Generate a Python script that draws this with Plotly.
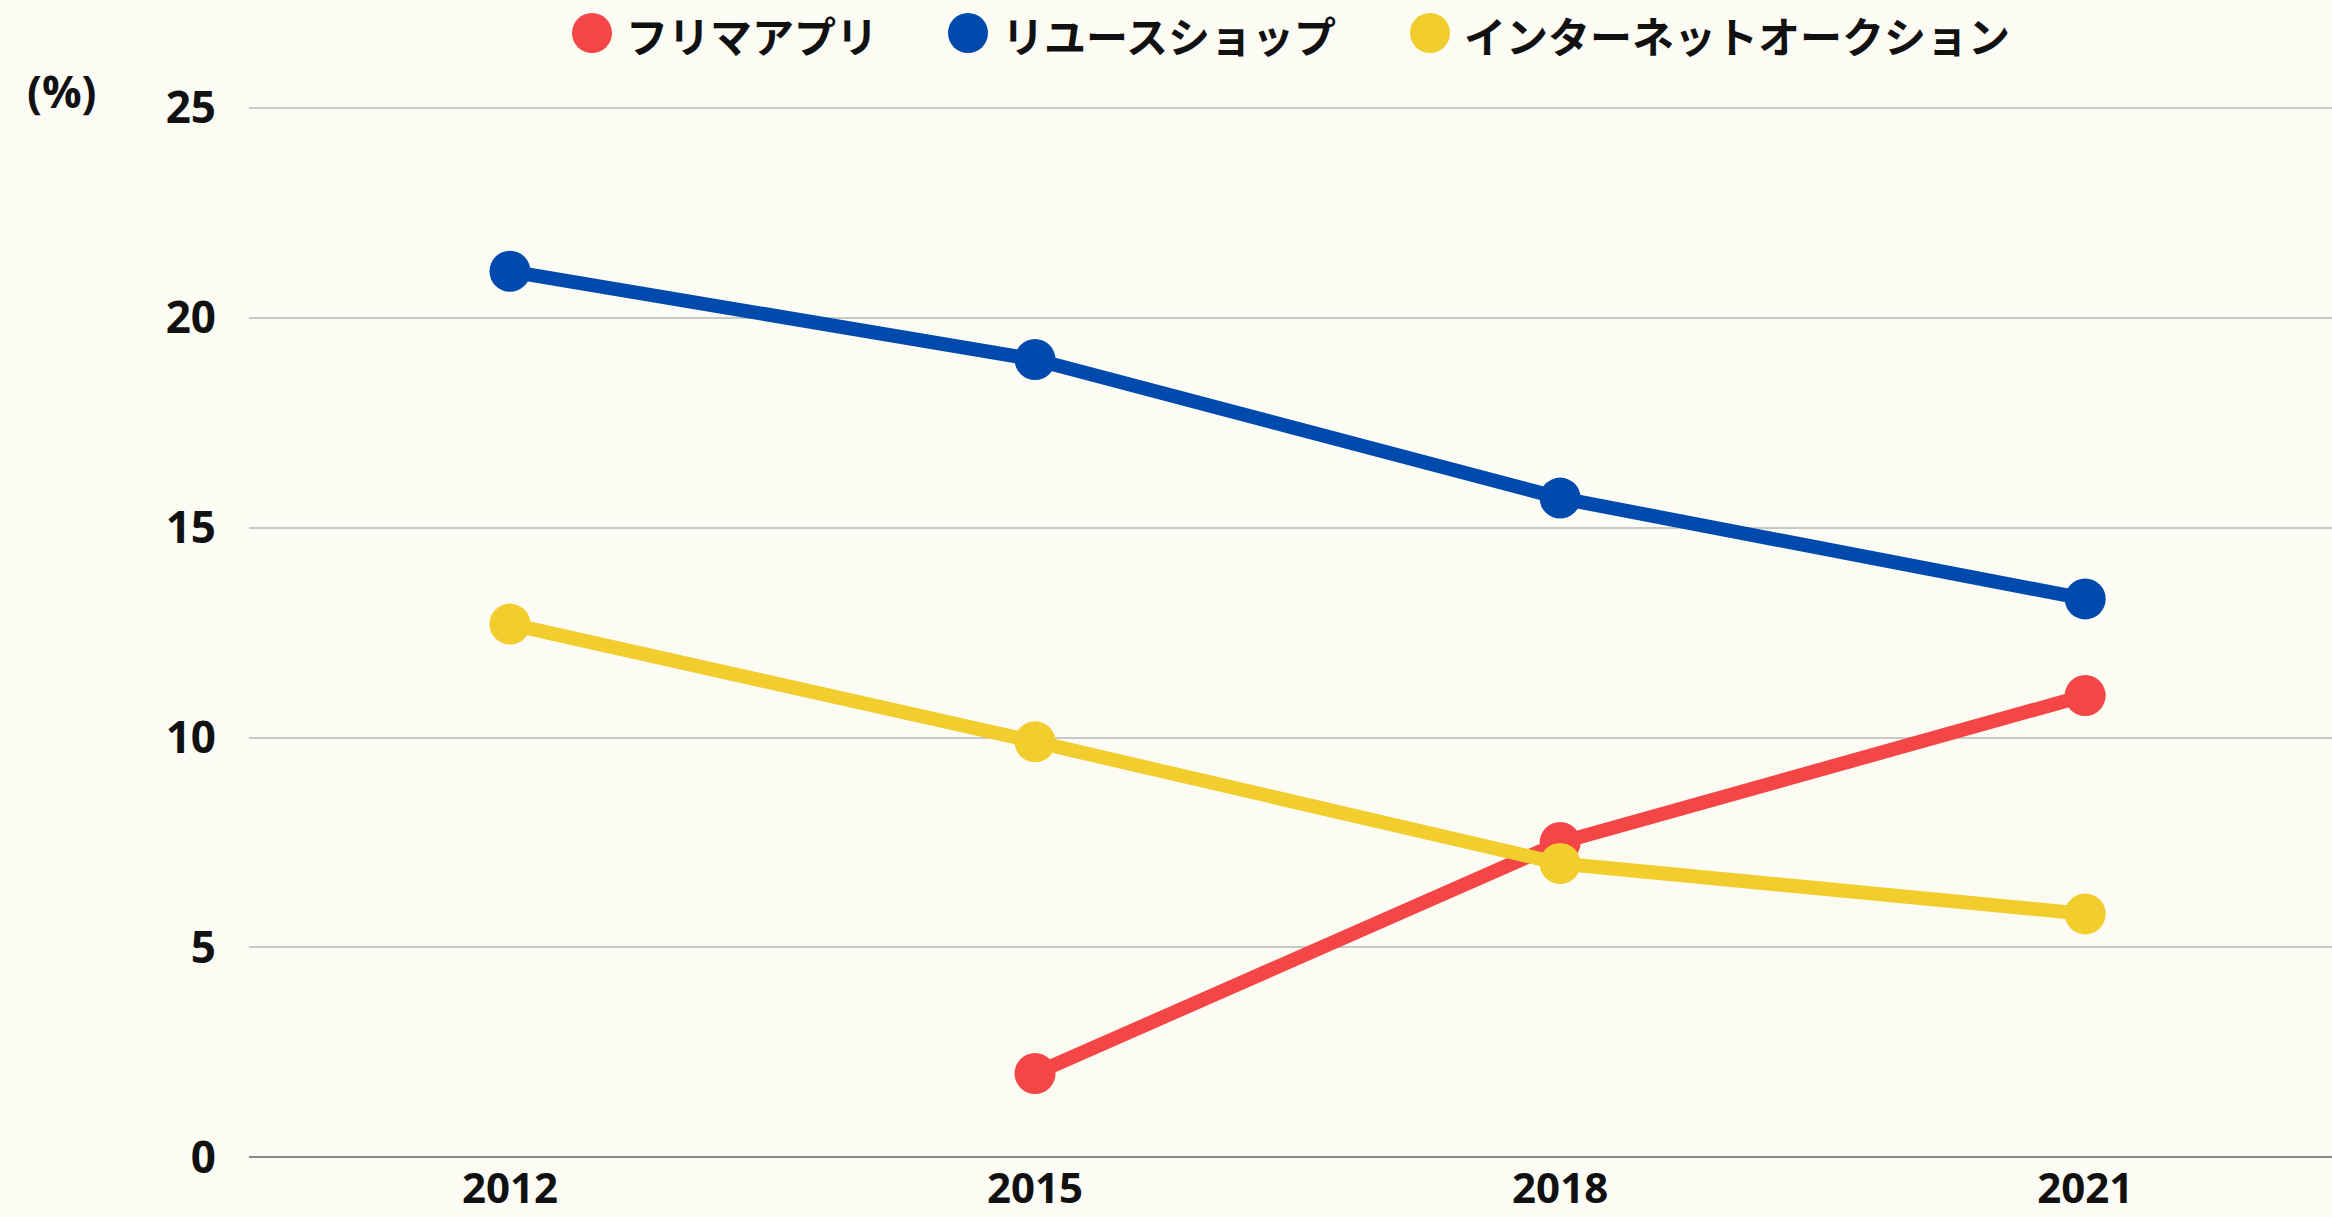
import plotly.graph_objects as go

# ---- data ----
years = ["2012", "2015", "2018", "2021"]
furima = [None, 2.0, 7.5, 11.0]          # フリマアプリ
reuse = [21.1, 19.0, 15.7, 13.3]         # リユースショップ
auction = [12.7, 9.9, 7.0, 5.8]          # インターネットオークション
series_names = ["フリマアプリ", "リユースショップ", "インターネットオークション"]
y_ticks = [0, 5, 10, 15, 20, 25]

# ---- style ----
colors = ["#F44646", "#004AAD", "#F2CD2E"]
BG = "#FCFCF5"
W, H = 2332, 1217
ML, MR, MT, MB = 249, 0, 105, 57
PW, PH = W - ML - MR, H - MT - MB
JP_FONT = "Noto Sans CJK JP, Noto Sans, sans-serif"
NUM_FONT = "Open Sans, Noto Sans, sans-serif"
Y_RANGE = [-0.06, 25.06]


def px(x):
    return (x - ML) / PW


def py(y):
    return (H - MB - y) / PH


fig = go.Figure()
for name, vals, col in zip(series_names, [furima, reuse, auction], colors):
    fig.add_trace(go.Scatter(
        x=years, y=vals, name=name, mode="lines+markers",
        line=dict(color=col, width=14),
        marker=dict(color=col, size=41),
        connectgaps=False, showlegend=False,
        hovertemplate="%{x}: %{y}%<extra>" + name + "</extra>",
    ))

# custom legend (large circle markers)
legend_marker_x = [592, 968, 1430]
shapes = []
annotations = []
for name, col, mx in zip(series_names, colors, legend_marker_x):
    shapes.append(dict(
        type="circle", xref="paper", yref="paper",
        xsizemode="pixel", ysizemode="pixel",
        xanchor=px(mx), yanchor=py(33),
        x0=-20, x1=20, y0=-20, y1=20,
        fillcolor=col, line=dict(width=0), layer="above",
    ))
    annotations.append(dict(
        text=name, xref="paper", yref="paper",
        x=px(mx + 32), y=py(34), xanchor="left", yanchor="middle",
        showarrow=False,
        font=dict(family=JP_FONT, size=42, color="#111111", weight="bold"),
    ))

annotations.append(dict(
    text="(%)", xref="paper", yref="paper",
    x=px(61), y=py(91), xanchor="center", yanchor="middle",
    showarrow=False,
    font=dict(family=NUM_FONT, size=44, color="#111111", weight="bold"),
))

fig.update_layout(
    width=W, height=H,
    margin=dict(l=ML, r=MR, t=MT, b=MB, pad=0, autoexpand=False),
    paper_bgcolor=BG, plot_bgcolor=BG,
    showlegend=False,
    shapes=shapes, annotations=annotations,
    xaxis=dict(
        type="category", categoryorder="array", categoryarray=years,
        range=[-0.497, 3.47], automargin=False,
        showgrid=False, zeroline=False, showline=False, ticks="",
        tickfont=dict(family=NUM_FONT, size=42, color="#111111", weight="bold"),
        ticklabelstandoff=0,
    ),
    yaxis=dict(
        range=Y_RANGE, tickvals=y_ticks, automargin=False,
        showgrid=True, gridcolor="#C8C8C4", gridwidth=1.5,
        zeroline=True, zerolinecolor="#8A8A8A", zerolinewidth=2,
        showline=False, ticks="",
        tickfont=dict(family=NUM_FONT, size=44, color="#111111", weight="bold"),
        ticklabelstandoff=32,
    ),
)

fig.write_html(
    "out.html",
    config={"displayModeBar": False},
    post_script="document.body.style.margin='0';document.body.style.overflow='hidden';",
)
